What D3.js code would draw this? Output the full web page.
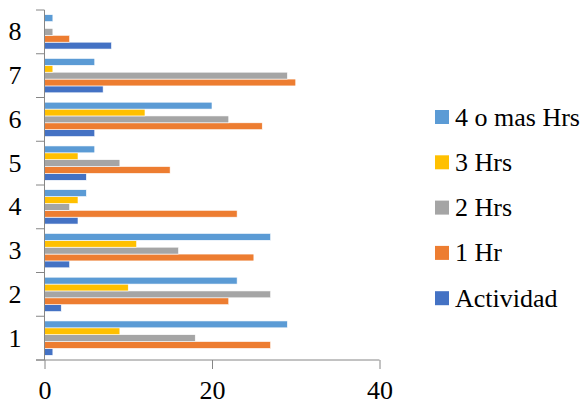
<!DOCTYPE html>
<html>
<head>
<meta charset="utf-8">
<script src="https://cdn.jsdelivr.net/npm/d3@7"></script>
<style>
  html, body { margin: 0; padding: 0; background: #fff; }
  svg { display: block; font-family: "Liberation Serif", "Times New Roman", serif; }
</style>
</head>
<body>
<svg id="chart" width="582" height="408"></svg>
<script>
// Categories, bottom to top
const categories = ["1", "2", "3", "4", "5", "6", "7", "8"];

// Series, drawn bottom-to-top within each group
const seriesNames = ["Actividad", "1 Hr", "2 Hrs", "3 Hrs", "4 o mas Hrs"];
const seriesColors = ["#4472C4", "#ED7D31", "#A5A5A5", "#FFC000", "#5B9BD5"];

const actividad = [1, 2, 3, 4, 5, 6, 7, 8];
const unaHr     = [27, 22, 25, 23, 15, 26, 30, 3];
const dosHrs    = [18, 27, 16, 3, 9, 22, 29, 1];
const tresHrs   = [9, 10, 11, 4, 4, 12, 1, 0];
const cuatroHrs = [29, 23, 27, 5, 6, 20, 6, 1];

const xTicks = [0, 20, 40];

const seriesValues = [actividad, unaHr, dosHrs, tresHrs, cuatroHrs];

const serif = "'Liberation Serif', 'Times New Roman', serif";

const svg = d3.select("#chart");

const plot = { left: 44.5, right: 379.5, top: 10, bottom: 360 };

const x = d3.scaleLinear().domain([0, 40]).range([plot.left, plot.right]);

// Category bands: "1" at the bottom
const y = d3.scaleBand()
  .domain(categories)
  .range([plot.bottom, plot.top])
  .paddingInner(0.215)
  .paddingOuter(0.1075);

// Series bands inside each category, first series at the bottom
const ySub = d3.scaleBand()
  .domain(d3.range(seriesNames.length))
  .range([y.bandwidth(), 0])
  .padding(0);

// Bars
const groups = svg.append("g")
  .selectAll("g")
  .data(categories)
  .join("g")
  .attr("transform", d => `translate(0,${y(d)})`);

groups.selectAll("rect")
  .data((c, ci) => seriesValues.map((vals, si) => ({ si, v: vals[ci] })))
  .join("rect")
  .filter(d => d.v > 0)
  .attr("x", x(0))
  .attr("y", d => ySub(d.si))
  .attr("width", d => x(d.v) - x(0))
  .attr("height", ySub.bandwidth())
  .attr("fill", d => seriesColors[d.si])
  .attr("stroke", "#fff")
  .attr("stroke-width", 0.6);

// Category axis: boundary ticks between groups
const axisColor = "#868686";
const boundaries = d3.range(categories.length + 1)
  .map(i => plot.bottom - i * (plot.bottom - plot.top) / categories.length);

const yAxisG = svg.append("g");
yAxisG.append("line")
  .attr("x1", x(0)).attr("x2", x(0))
  .attr("y1", plot.top).attr("y2", plot.bottom)
  .attr("stroke", axisColor).attr("stroke-width", 1);
yAxisG.selectAll("line.tick")
  .data(boundaries)
  .join("line")
  .attr("class", "tick")
  .attr("x1", x(0) - 8.5).attr("x2", x(0))
  .attr("y1", d => d).attr("y2", d => d)
  .attr("stroke", axisColor).attr("stroke-width", 1);

yAxisG.selectAll("text")
  .data(categories)
  .join("text")
  .attr("x", 15)
  .attr("y", d => y(d) + y.bandwidth() / 2)
  .attr("text-anchor", "middle")
  .attr("dominant-baseline", "central")
  .attr("font-family", serif)
  .attr("font-size", 26)
  .attr("fill", "#000")
  .text(d => d);

// Value axis
const xAxis = d3.axisBottom(x)
  .tickValues(xTicks)
  .tickSize(9)
  .tickPadding(12)
  .tickFormat(d3.format("d"));

const xAxisG = svg.append("g")
  .attr("transform", `translate(0,${plot.bottom})`)
  .call(xAxis)
  .attr("font-family", serif)
  .attr("font-size", 26);
xAxisG.select(".domain").remove();
xAxisG.append("line")
  .attr("x1", x(0) - 8.5).attr("x2", plot.right)
  .attr("y1", 0).attr("y2", 0)
  .attr("stroke", axisColor);
xAxisG.selectAll(".tick line").attr("stroke", axisColor);
xAxisG.selectAll(".tick text").attr("fill", "#000");

// Legend, top entry is the last series
const legendOrder = d3.range(seriesNames.length).reverse();
const legend = svg.append("g")
  .selectAll("g")
  .data(legendOrder)
  .join("g")
  .attr("transform", (d, i) => `translate(435,${117 + i * 45.3})`);

legend.append("rect")
  .attr("x", 0).attr("y", -7)
  .attr("width", 14).attr("height", 14)
  .attr("fill", d => seriesColors[d]);

legend.append("text")
  .attr("x", 20)
  .attr("y", 0)
  .attr("dominant-baseline", "central")
  .attr("font-family", serif)
  .attr("font-size", 26)
  .attr("fill", "#000")
  .text(d => seriesNames[d]);
</script>
</body>
</html>
